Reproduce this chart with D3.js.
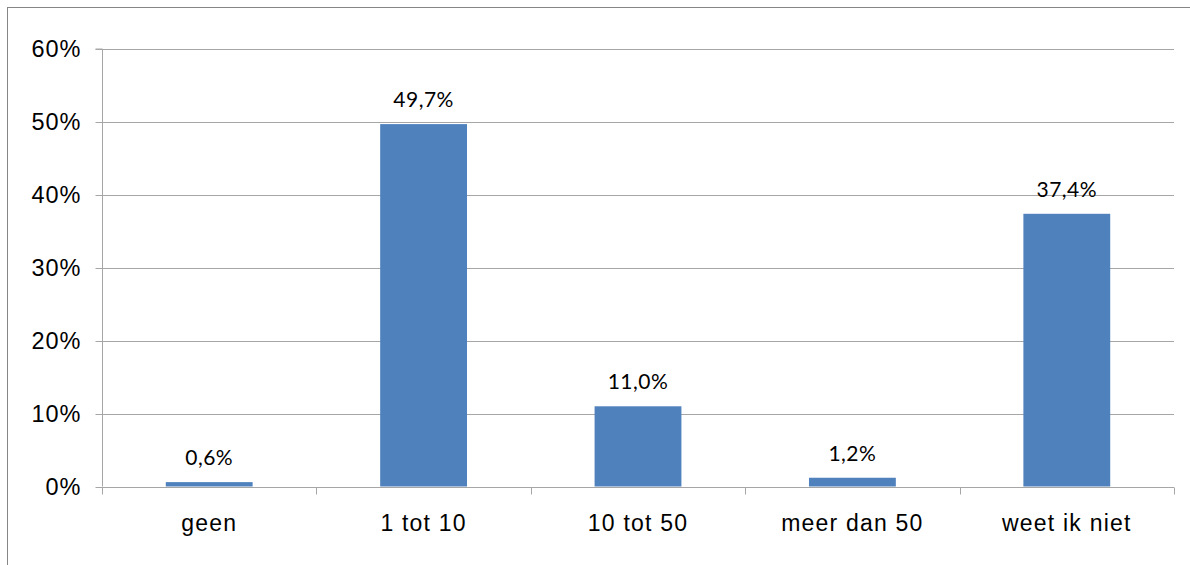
<!DOCTYPE html>
<html>
<head>
  <meta charset="utf-8">
  <title>Bar chart</title>
  <script src="https://d3js.org/d3.v7.min.js"></script>
  <style>
    body { margin: 0; background: #fff; }
  </style>
</head>
<body>
  <script>

// data
const categories = ["geen", "1 tot 10", "10 tot 50", "meer dan 50", "weet ik niet"];
const values = [0.6, 49.7, 11.0, 1.2, 37.4];
const yTicks = [0, 10, 20, 30, 40, 50, 60];

const W = 1190, H = 565;
const margin = { top: 49, right: 16, bottom: 78.5, left: 102 };

const svg = d3.select("body")
  .append("svg")
  .attr("width", W)
  .attr("height", H);

// outer frame (runs off the right and bottom edges)
svg.append("rect")
  .attr("x", 7.5)
  .attr("y", 7.5)
  .attr("width", W + 20)
  .attr("height", H + 20)
  .attr("fill", "none")
  .attr("stroke", "#868686")
  .attr("stroke-width", 1);

const x = d3.scaleBand()
  .domain(categories)
  .range([margin.left, W - margin.right])
  .paddingInner(0)
  .paddingOuter(0);

const y = d3.scaleLinear()
  .domain([0, 60])
  .range([H - margin.bottom, margin.top]);

const grid = "#a6a6a6";

// horizontal gridlines
svg.append("g")
  .selectAll("line")
  .data(yTicks.filter(d => d > 0))
  .join("line")
  .attr("x1", margin.left)
  .attr("x2", W - margin.right)
  .attr("y1", d => Math.round(y(d)) + 0.5)
  .attr("y2", d => Math.round(y(d)) + 0.5)
  .attr("stroke", grid);

// y axis
const yAxis = svg.append("g")
  .attr("transform", `translate(${margin.left + 0.5},0)`)
  .call(d3.axisLeft(y).tickValues(yTicks).tickSize(7).tickPadding(14)
    .tickFormat(d => d + "%"));
yAxis.select(".domain").attr("stroke", grid).attr("d", `M-7,${y(60)}H0V${y(0)}`);
yAxis.selectAll(".tick line").attr("stroke", grid);
yAxis.selectAll(".tick text")
  .attr("fill", "#000")
  .style("font-family", "'Liberation Sans', Arial, sans-serif")
  .style("font-size", "23.5px")
  .style("letter-spacing", "1px");
yAxis.selectAll(".tick").attr("transform", d => `translate(0,${Math.round(y(d)) + 0.5})`);

// bars
const barW = x.bandwidth() * 0.405;
svg.append("g")
  .selectAll("rect")
  .data(values)
  .join("rect")
  .attr("x", (d, i) => x(categories[i]) + (x.bandwidth() - barW) / 2)
  .attr("y", d => y(d))
  .attr("width", barW)
  .attr("height", d => y(0) - y(d))
  .attr("fill", "#4f81bd");

// x axis line and boundary ticks
const x0 = Math.round(y(0)) + 0.5;
const bounds = categories.map(c => x(c)).concat([x.range()[1]]);
svg.append("line")
  .attr("x1", margin.left).attr("x2", W - margin.right)
  .attr("y1", x0).attr("y2", x0)
  .attr("stroke", grid);
svg.append("g")
  .selectAll("line")
  .data(bounds)
  .join("line")
  .attr("x1", d => Math.round(d) + 0.5)
  .attr("x2", d => Math.round(d) + 0.5)
  .attr("y1", x0)
  .attr("y2", x0 + 7)
  .attr("stroke", grid);

// category labels
svg.append("g")
  .selectAll("text")
  .data(categories)
  .join("text")
  .attr("x", d => x(d) + x.bandwidth() / 2)
  .attr("y", 531)
  .attr("text-anchor", "middle")
  .style("font-family", "'Liberation Sans', Arial, sans-serif")
  .style("font-size", "23px")
  .style("letter-spacing", "1.2px")
  .text(d => d);

// value labels
svg.append("g")
  .selectAll("text")
  .data(values)
  .join("text")
  .attr("x", (d, i) => x(categories[i]) + x.bandwidth() / 2)
  .attr("y", d => y(d) - 17)
  .attr("text-anchor", "middle")
  .style("font-family", "Lato, 'Open Sans', sans-serif")
  .style("font-size", "21px")
  .style("letter-spacing", "0.5px")
  .text(d => d.toFixed(1).replace(".", ",") + "%");

  </script>
</body>
</html>
